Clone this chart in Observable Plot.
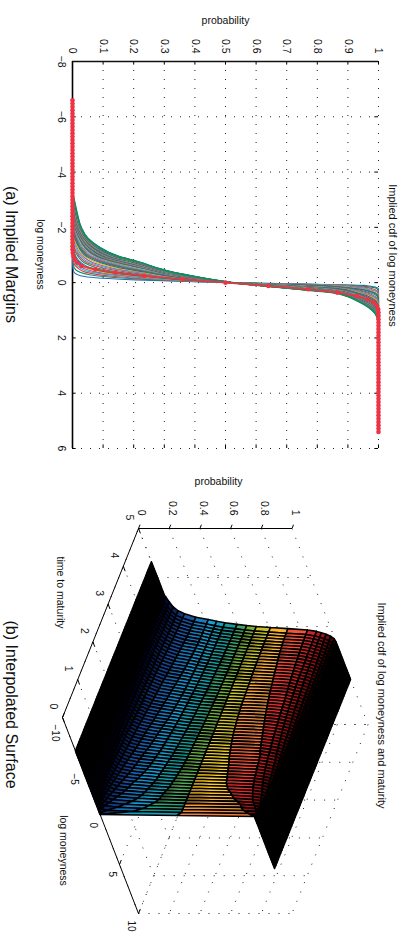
<!DOCTYPE html>
<html>
<head>
<meta charset="utf-8">
<script src="https://cdn.jsdelivr.net/npm/d3@7"></script>
<script src="https://cdn.jsdelivr.net/npm/@observablehq/plot@0.6"></script>
<style>
html,body{margin:0;padding:0;background:#fff}
svg{display:block}
</style>
</head>
<body>
<div id="chart"></div>
<script>
// ---------- data ----------
const probTicks = [0,0.1,0.2,0.3,0.4,0.5,0.6,0.7,0.8,0.9,1];
const moneyTicks = [-8,-6,-4,-2,0,2,4,6];
const surfProbTicks = [0,0.2,0.4,0.6,0.8,1];
const surfTimeTicks = [0,1,2,3,4,5];
const surfMoneyTicks = [-10,-5,0,5,10];

const leftTailM = [-6.6,-6.36,-6.12,-5.88,-5.64,-5.4,-5.16,-4.92,-4.68,-4.44,-4.2,-3.96,-3.72,-3.48,-3.24];
const centralM = [-3,-2.5,-2,-1.6,-1.3,-0.95,-0.72,-0.53,-0.38,-0.22,-0.1,0,0.1,0.22,0.35,0.5,0.64,0.8,1,1.25,1.6];
const rightTailM = [1.84,2.08,2.32,2.56,2.8,3.04,3.28,3.52,3.76,4,4.24,4.48,4.72,4.96,5.2,5.4];

const maturities = [0,.08,.16,.24,.32,.4,.48,.56,.64,.72,.8,.88,.96,1.04,1.12,1.2,1.28,1.36,1.44,1.52,1.6,1.68,1.76,1.84,1.92,2,2.08,2.16,2.24,2.32,2.4,2.48,2.56,2.64,2.72,2.8,2.88,2.96,3.04,3.12,3.2,3.28,3.36,3.44,3.52,3.6,3.68,3.76,3.84,3.92,4,4.08,4.16,4.24,4.32,4.4,4.48,4.56,4.64,4.72,4.8,4.88,5];

// cumulative probability in percent: one row per maturity, one column per centralM
const cdfPercent = [
[0,0,0,0,0,0,0,0,0,0,0,50,100,100,100,100,100,100,100,100,100],
[0,0,0,0,0,0,0,.15,.5,4,20.5,52,95.4,100,100,100,100,100,100,100,100],
[0,0,0,0,0,.02,.2,.6,2.4,10,26.5,52,91.3,99.5,100,100,100,100,100,100,100],
[0,0,0,0,.01,.1,.4,1.7,4.2,14,29.5,52,89,98,100,100,100,100,100,100,100],
[0,0,0,0,.03,.25,.8,2.5,6,18,32.5,52,87.7,96.6,99.8,100,100,100,100,100,100],
[0,0,0,.01,.1,.35,1.4,3.4,8,20.8,34.5,52,84.8,95,99.6,100,100,100,100,100,100],
[0,0,0,.03,.15,.45,1.9,4.3,10,22.7,35.2,52,81.8,93.8,98.9,100,100,100,100,100,100],
[0,0,0,.06,.22,.8,2.3,5.2,11.5,24,36,52,80,93,98.3,99.9,100,100,100,100,100],
[0,0,0,.1,.27,1.1,2.8,6.2,12.8,25,37,52,78,92.3,97.8,99.8,100,100,100,100,100],
[0,0,.01,.14,.32,1.5,3.3,7,14,26,38,52,75.5,91.6,97.2,99.6,100,100,100,100,100],
[0,0,.03,.2,.4,1.8,3.8,8,15,27,38.5,52,74.5,91,96.6,99.6,100,100,100,100,100],
[0,0,.07,.22,.47,2.1,4.3,9,16.8,28,39,52,73,90.5,96,99.4,99.9,100,100,100,100],
[0,.01,.09,.27,.55,2.3,4.7,10,17.8,28.5,39.6,52,72.6,90,95.5,98.9,99.8,100,100,100,100],
[0,.02,.12,.3,.8,2.6,5.2,10.8,19,29,40,52,72,89.6,95,98.8,99.8,100,100,100,100],
[0,.03,.14,.33,1,2.8,5.7,11.5,20,29.5,40.5,52,71.5,89.2,94.4,98.5,99.7,100,100,100,100],
[0,.03,.17,.38,1.2,3.1,6.3,12.3,20.8,30,41,52,70.8,89,93.9,98.2,99.7,100,100,100,100],
[0,.04,.2,.45,1.4,3.4,6.8,13,21.5,30.5,41.2,52,70.5,88.6,93.6,97.9,99.6,100,100,100,100],
[0,.05,.22,.47,1.5,3.7,7.3,13.5,22,31,41.6,52,69.7,88.3,93.3,97.6,99.5,99.9,100,100,100],
[.01,.06,.25,.55,1.6,4,8,14.3,22.7,31.5,41.8,52,69.3,88,93,97.3,99.4,99.9,100,100,100],
[.01,.07,.27,.7,1.8,4.2,8.5,15,23.2,32,42,52,68.5,87.7,92.6,97,99.2,99.9,100,100,100],
[.01,.08,.3,.8,2,4.5,9.2,15.7,24,32.5,42.2,52,68,87.3,92.4,96.8,99,99.8,100,100,100],
[.02,.1,.32,.95,2.1,4.8,9.6,16.5,24.4,32.8,42.4,52,67.5,87,92,96.4,98.8,99.8,100,100,100],
[.02,.12,.35,1.1,2.2,5,10,17,24.7,33,42.5,52,67,86,91.9,96,98.6,99.7,100,100,100],
[.03,.13,.38,1.2,2.3,5.2,10.4,17.5,25.2,33.4,42.7,52,66.5,85.5,91.6,95.7,98.4,99.7,100,100,100],
[.04,.15,.4,1.3,2.4,5.5,10.8,18,25.5,33.7,42.9,52,66,85,91.2,95.4,98.2,99.6,99.9,100,100],
[.05,.17,.43,1.4,2.6,5.8,11.2,18.5,26,34,43,52,65.6,84.5,91,95.2,98,99.6,100,100,100],
[.06,.19,.45,1.5,2.8,6,11.8,19,26.3,34.3,43.2,52,65.2,84,90.7,94.9,97.8,99.5,99.9,100,100],
[.07,.2,.48,1.6,2.9,6.3,12.2,19.6,26.7,34.6,43.4,52,64.8,83.5,90.5,94.6,97.6,99.5,99.9,100,100],
[.08,.22,.5,1.7,3.1,6.7,12.7,20.2,27,34.9,43.5,52,64.5,83,90.2,94.3,97.4,99.4,99.9,100,100],
[.09,.24,.6,1.8,3.2,7,13.2,20.8,27.3,35.2,43.7,52,64.2,82.5,90,94,97.2,99.3,99.8,100,100],
[.1,.25,.65,2,3.4,7.3,13.7,21.3,27.7,35.5,43.9,52,64,82,89.8,93.7,97,99.2,99.8,100,100],
[.11,.26,.7,2.1,3.6,7.6,14,21.8,28,35.7,44,52,63.6,81.5,89.6,93.4,96.8,99,99.8,100,100],
[.12,.27,.8,2.2,3.7,7.9,14.5,22.2,28.3,36,44.1,52,63.4,81,89.4,93.2,96.6,98.9,99.7,100,100],
[.13,.28,.85,2.3,3.9,8.1,15,22.6,28.5,36.2,44.3,52,63.2,80.5,89.2,93,96.4,98.8,99.7,100,100],
[.14,.29,.9,2.4,4,8.4,15.4,23,28.8,36.4,44.4,52,63,80,89,92.8,96.2,98.7,99.7,100,100],
[.15,.3,1,2.5,4.2,8.7,15.8,23.3,29,36.6,44.5,52,62.8,79.6,88.8,92.6,96,98.6,99.6,100,100],
[.16,.3,1,2.6,4.4,9,16.3,23.7,29.3,36.8,44.6,52,62.6,79.2,88.6,92.4,95.8,98.5,99.6,100,100],
[.17,.3,1.1,2.7,4.5,9.3,16.7,24,29.5,37,44.8,52,62.5,78.8,88.4,92.2,95.6,98.4,99.6,100,100],
[.18,.35,1.2,2.8,4.7,9.5,17,24.3,29.7,37.2,44.9,52,62.4,78.4,88.2,92,95.4,98.3,99.5,100,100],
[.2,.35,1.2,2.9,4.8,9.8,17.4,24.5,30,37.4,45,52,62.3,78,88,91.8,95.3,98.2,99.5,100,100],
[.2,.4,1.3,3,5,10,17.8,24.8,30.2,37.6,45.1,52,62.2,77.6,87.8,91.6,95.2,98.1,99.5,99.9,100],
[.22,.4,1.3,3.1,5.2,10.3,18.2,25,30.4,37.8,45.2,52,62.1,77.2,87.6,91.5,95,98,99.4,99.9,100],
[.23,.45,1.4,3.2,5.3,10.6,18.6,25.2,30.6,38,45.2,52,62,76.9,87.4,91.3,94.9,97.9,99.4,99.9,100],
[.24,.45,1.5,3.3,5.5,10.9,19,25.4,30.8,38.1,45.3,52,61.9,76.6,87.2,91.2,94.7,97.8,99.3,99.9,100],
[.25,.5,1.5,3.4,5.6,11.2,19.3,25.6,31,38.3,45.4,52,61.8,76.3,87,91,94.6,97.7,99.3,99.9,100],
[.27,.5,1.6,3.5,5.8,11.5,19.7,25.8,31.2,38.4,45.4,52,61.7,76,86.8,90.9,94.5,97.6,99.3,99.9,100],
[.28,.55,1.7,3.6,6,11.8,20,26,31.3,38.6,45.5,52,61.6,75.6,86.6,90.8,94.3,97.5,99.2,99.9,100],
[.3,.6,1.7,3.7,6.2,12,20.3,26.1,31.5,38.7,45.5,52,61.5,75.3,86.4,90.7,94.2,97.4,99.2,99.8,100],
[.3,.65,1.8,3.8,6.4,12.3,20.6,26.3,31.6,38.8,45.6,52,61.4,75,86.2,90.6,94.1,97.3,99.1,99.8,100],
[.32,.7,1.9,3.9,6.6,12.6,20.9,26.4,31.8,39,45.6,52,61.4,74.7,86,90.5,94,97.2,99.1,99.8,100],
[.33,.75,1.9,4,6.8,12.9,21.2,26.5,31.9,39.1,45.7,52,61.3,74.4,85.8,90.5,93.9,97.1,99,99.8,100],
[.35,.8,2,4.1,7,13.1,21.5,26.7,32,39.2,45.7,52,61.3,74.1,85.6,90.4,93.8,97,99,99.8,100],
[.36,.9,2.1,4.2,7.2,13.4,21.7,26.8,32.1,39.3,45.7,52,61.2,73.8,85.5,90.4,93.7,96.9,98.9,99.8,100],
[.38,1,2.2,4.3,7.4,13.6,21.9,26.9,32.1,39.4,45.8,52,61.2,73.5,85.4,90.3,93.6,96.8,98.8,99.7,100],
[.4,1.05,2.3,4.4,7.6,13.8,22,27,32.2,39.5,45.8,52,61.1,73.2,85.3,90.3,93.5,96.6,98.7,99.7,100],
[.4,1.1,2.4,4.5,7.7,14,22.1,27.1,32.2,39.6,45.8,52,61.1,73,85.2,90.2,93.4,96.5,98.7,99.7,100],
[.42,1.2,2.5,4.6,7.8,14.3,22.2,27.2,32.3,39.7,45.9,52,61.1,72.8,85.1,90.2,93.3,96.3,98.6,99.7,100],
[.43,1.25,2.55,4.7,8,14.5,22.3,27.3,32.3,39.8,45.9,52,61,72.6,85,90.1,93.2,96.2,98.5,99.7,100],
[.45,1.3,2.6,4.8,8.1,14.6,22.4,27.3,32.4,39.8,45.9,52,61,72.4,84.9,90.1,93.1,96,98.4,99.6,100],
[.46,1.35,2.65,4.85,8.2,14.7,22.4,27.4,32.4,39.9,46,52,61,72.3,84.8,90.05,93,95.9,98.3,99.6,100],
[.47,1.4,2.7,4.9,8.3,14.8,22.45,27.4,32.4,39.9,46,52,61,72.2,84.7,90,93,95.7,98.2,99.6,100],
[.48,1.45,2.75,4.95,8.4,14.9,22.5,27.45,32.5,40,46,52,61,72.1,84.6,90,92.9,95.6,98.1,99.6,100],
[.5,1.5,2.8,5,8.5,15,22.5,27.5,32.5,40,46,52,61,72,84.5,90,92.8,95.5,98,99.6,100]
];

// which maturities were drawn as implied margins in panel (a)
const marginRows = [1,2,3,4,5,6,7,8,10,12,14,16,18,20,22,24,26,28,31,32,33,34,35,36,37,38,39,40,41,42,43,44,45,46,47,48,49,50,51,52,53,54,55,56,57,58,59,60,61,62];

// the starred red margin
const redMoneyness = [-6.6,-6.48,-6.36,-6.24,-6.12,-6,-5.88,-5.76,-5.64,-5.52,-5.4,-5.28,-5.16,-5.04,-4.92,-4.8,-4.68,-4.56,-4.44,-4.32,-4.2,-4.08,-3.96,-3.84,-3.72,-3.6,-3.48,-3.36,-3.24,-3.12,-3,-2.88,-2.76,-2.64,-2.52,-2.4,-2.28,-2.16,-2.04,-1.92,-1.8,-1.68,-1.56,-1.44,-1.32,-1.2,-1.08,-.96,-.84,-.72,-.6,-.48,-.36,-.24,-.12,0,.12,.24,.36,.48,.6,.72,.84,.96,1.08,1.2,1.32,1.44,1.56,1.68,1.8,1.92,2.04,2.16,2.28,2.4,2.52,2.64,2.76,2.88,3,3.12,3.24,3.36,3.48,3.6,3.72,3.84,3.96,4.08,4.2,4.32,4.44,4.56,4.68,4.8,4.92,5.04,5.16,5.28,5.4];
const redProbability = [0,0,0,0,0,0,0,0,0,0,0,0,0,0,0,0,0,0,0,0,0,0,0,0,0,0,0,0,0,0,0,0,0,0,0,0,0,0,0,0,0,0,0,0,0,0,.001,.003,.007,.015,.03,.075,.14,.235,.36,.5,.64,.77,.865,.93,.965,.985,.995,.999,1,1,1,1,1,1,1,1,1,1,1,1,1,1,1,1,1,1,1,1,1,1,1,1,1,1,1,1,1,1,1,1,1,1,1,1,1];

const marginPalette = ["#2a6ebb","#0f8f5f","#e8364a","#25b5c5","#b050a0","#c8c820","#555555"];
const jetStops = [0,.03,.1,.25,.38,.5,.62,.72,.82,.95,1];
const jetColors = ["#00002c","#081e58","#184a98","#15a0d8","#109a90","#80b030","#ffd020","#f09040","#f03030","#a01010","#300000"];

// ---------- tidy tables built from the arrays ----------
const allM = [...leftTailM, ...centralM, ...rightTailM];
const fullRows = cdfPercent.map(r => [...leftTailM.map(() => 0), ...r.map(v => v / 100), ...rightTailM.map(() => 1)]);

const marginLines = marginRows.flatMap((rowIdx, i) =>
  allM.map((m, j) => ({m, p: fullRows[rowIdx][j], row: rowIdx, series: i % marginPalette.length})));
const outerLine = allM.map((m, j) => ({m, p: fullRows[fullRows.length - 1][j]}));
const redMargin = redMoneyness.map((m, i) => ({m, p: redProbability[i]}));

// 3D view: the box edges map linearly onto the page
const U = (m, t, p) => (m + 10) / 20 + t / 5 + p * 2.02;
const V = (m, t) => (m + 10) / 20 * 196 - t / 5 * 189;

const cells = [];
for (let i = maturities.length - 1; i > 0; --i) {
  for (let j = 0; j < allM.length - 1; ++j) {
    const c = [[j, i], [j + 1, i], [j + 1, i - 1], [j, i - 1], [j, i]];
    const mean = (fullRows[i][j] + fullRows[i][j + 1] + fullRows[i - 1][j] + fullRows[i - 1][j + 1]) / 4;
    const id = i * 1000 + j;
    for (const [a, b] of c) {
      cells.push({id, p: mean, x: U(allM[a], maturities[b], fullRows[b][a]), y: V(allM[a], maturities[b])});
    }
  }
}

function seg(m1, t1, p1, m2, t2, p2) {
  return {x1: U(m1, t1, p1), y1: V(m1, t1), x2: U(m2, t2, p2), y2: V(m2, t2)};
}
const mMin = -10, mMax = 10, tMax = 5;
const gridSegs = [
  ...surfMoneyTicks.flatMap(m => [seg(m, 0, 0, m, tMax, 0), seg(m, tMax, 0, m, tMax, 1)]),
  ...surfTimeTicks.flatMap(t => [seg(mMin, t, 0, mMax, t, 0), seg(mMax, t, 0, mMax, t, 1)]),
  ...surfProbTicks.flatMap(p => [seg(mMin, tMax, p, mMax, tMax, p), seg(mMax, tMax, p, mMax, 0, p)])
];
const axisSegs = [seg(mMin, tMax, 0, mMin, tMax, 1), seg(mMin, 0, 0, mMin, tMax, 0), seg(mMin, 0, 0, mMax, 0, 0)];
const tickSegs = [
  ...surfProbTicks.map(p => seg(mMin, tMax, p, mMin, tMax + .1, p)),
  ...surfTimeTicks.map(t => seg(mMin, t, 0, mMin + .5, t, 0)),
  ...surfMoneyTicks.map(m => seg(m, 0, 0, m, .12, 0))
];

const minus = d => String(d).replace("-", "\u2212");
const FONT = "'Liberation Sans', Helvetica, Arial, sans-serif";

function pageText(txt, px, py, rotate, size, margins) {
  return Plot.text([txt], {
    frameAnchor: "top-left", dx: px - margins.marginLeft, dy: py - margins.marginTop,
    textAnchor: "middle", lineAnchor: "middle",
    rotate, fontSize: size, fill: "#111", text: d => d
  });
}

// ---------- panel (a) ----------
const mA = {marginLeft: 72, marginRight: 25, marginTop: 61, marginBottom: 12};
const dots = "1 8";
const plotA = Plot.plot({
  width: 403, height: 460, ...mA, style: {fontFamily: FONT, background: "#fff"},
  x: {domain: [0, 1], axis: null},
  y: {domain: [-8, 6], reverse: true, axis: null},
  color: {type: "ordinal", domain: d3.range(marginPalette.length), range: marginPalette},
  marks: [
    Plot.ruleX(probTicks, {x: d => d, y1: -8, y2: 6, stroke: "#222", strokeDasharray: dots, strokeWidth: 1}),
    Plot.ruleY(moneyTicks, {y: d => d, x1: 0, x2: 1, stroke: "#222", strokeDasharray: dots, strokeWidth: 1}),
    Plot.ruleX(probTicks, {x: d => d, y1: -8, y2: -7.87, stroke: "#000"}),
    Plot.ruleX(probTicks, {x: d => d, y1: 6, y2: 5.87, stroke: "#000"}),
    Plot.ruleY(moneyTicks, {y: d => d, x1: 0, x2: .012, stroke: "#000"}),
    Plot.ruleY(moneyTicks, {y: d => d, x1: 1, x2: .988, stroke: "#000"}),
    Plot.ruleY([-8], {x1: 0, x2: 1, stroke: "#111", strokeWidth: 1.4}),
    Plot.ruleX([0], {y1: -8, y2: 6, stroke: "#000", strokeWidth: 1.6}),
    Plot.axisX(probTicks, {anchor: "top", tickRotate: 90, tickSize: 0, tickPadding: 8, fontSize: 10.5, tickFormat: String, label: null, fill: "#111"}),
    Plot.axisY(moneyTicks, {anchor: "left", tickRotate: 90, tickSize: 0, tickPadding: 7, fontSize: 10.5, tickFormat: minus, label: null, fill: "#111"}),
    Plot.line(marginLines, {x: "p", y: "m", z: "row", stroke: "series", strokeWidth: 1.1, curve: "monotone-y"}),
    Plot.line(outerLine, {x: "p", y: "m", stroke: marginPalette[1], strokeWidth: 1.8, curve: "monotone-y"}),
    Plot.line(redMargin, {x: "p", y: "m", stroke: "#ee3344", strokeWidth: 1.6}),
    Plot.dot(redMargin, {x: "p", y: "m", r: 2.3, fill: "#ee3344", stroke: "none"}),
    pageText("probability", 225, 20, 0, 10.5, mA),
    pageText("log moneyness", 40, 254, 90, 10.5, mA),
    pageText("Implied cdf of log moneyness", 392, 255, 90, 11, mA),
    pageText("(a) Implied Margins", 11, 254, 90, 16, mA)
  ]
});

// ---------- panel (b) ----------
const mB = {marginLeft: 62, marginRight: 35.5, marginTop: 68, marginBottom: 19};
const plotB = Plot.plot({
  width: 403, height: 472, ...mB, style: {fontFamily: FONT, background: "#fff"},
  x: {domain: [0, 4.02], axis: null},
  y: {domain: [-189, 196], reverse: true, axis: null},
  color: {type: "linear", domain: jetStops, range: jetColors},
  marks: [
    Plot.link(gridSegs, {x1: "x1", y1: "y1", x2: "x2", y2: "y2", stroke: "#222", strokeDasharray: "1 9", strokeWidth: 1}),
    Plot.link(axisSegs, {x1: "x1", y1: "y1", x2: "x2", y2: "y2", stroke: "#000", strokeWidth: 1}),
    Plot.link(tickSegs, {x1: "x1", y1: "y1", x2: "x2", y2: "y2", stroke: "#000", strokeWidth: 1}),
    Plot.line(cells, {x: "x", y: "y", z: "id", fill: "p", stroke: "#000", strokeWidth: 1.6, strokeLinejoin: "round"}),
    Plot.text(surfProbTicks, {x: d => U(mMin, tMax, d), y: V(mMin, tMax), dx: 3, dy: -13, rotate: 90, textAnchor: "end", fontSize: 10.5, fill: "#111", text: String}),
    Plot.text(surfTimeTicks, {x: d => U(mMin, d, 0), y: d => V(mMin, d), dx: -9, dy: -11, rotate: 90, fontSize: 10.5, fill: "#111", text: String}),
    Plot.text(surfMoneyTicks, {x: d => U(d, 0, 0), y: d => V(d, 0), dx: -7, dy: 7, rotate: 90, textAnchor: "start", fontSize: 10, fill: "#111", text: minus}),
    pageText("probability", 218, 21, 0, 10.5, mB),
    pageText("time to maturity", 60, 132, 90, 10.5, mB),
    pageText("log moneyness", 63, 390, 90, 10.5, mB),
    pageText("Implied cdf of log moneyness and maturity", 381, 245, 90, 11, mB),
    pageText("(b) Interpolated Surface", 11, 244, 90, 16, mB)
  ]
});

document.getElementById("chart").append(plotA, plotB);
</script>
</body>
</html>
